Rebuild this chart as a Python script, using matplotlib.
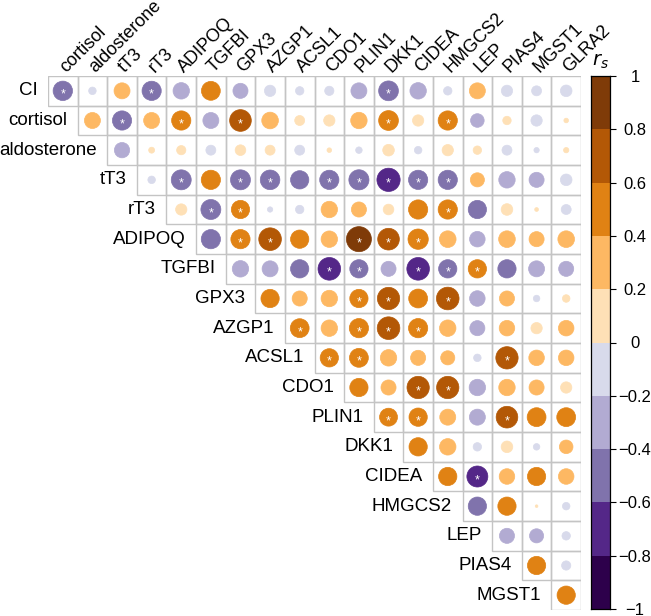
import numpy as np
import matplotlib
matplotlib.use('Agg')
import matplotlib.pyplot as plt
from matplotlib.patches import Circle, Rectangle
from matplotlib.colors import ListedColormap, BoundaryNorm

plt.rcParams['font.family'] = ['Liberation Sans', 'DejaVu Sans']

# row / column names of the upper-triangle correlation matrix
row_labels = ['CI', 'cortisol', 'aldosterone', 'tT3', 'rT3', 'ADIPOQ', 'TGFBI',
              'GPX3', 'AZGP1', 'ACSL1', 'CDO1', 'PLIN1', 'DKK1', 'CIDEA',
              'HMGCS2', 'LEP', 'PIAS4', 'MGST1']
col_labels = ['cortisol', 'aldosterone', 'tT3', 'rT3', 'ADIPOQ', 'TGFBI', 'GPX3',
              'AZGP1', 'ACSL1', 'CDO1', 'PLIN1', 'DKK1', 'CIDEA', 'HMGCS2',
              'LEP', 'PIAS4', 'MGST1', 'GLRA2']

# spearman rs per row, starting at the diagonal column
rs_CI = [-0.53, -0.08, 0.36, -0.52, -0.38, 0.50, -0.32, -0.18, -0.10, -0.12, -0.36, -0.55, -0.38, -0.10, 0.36, -0.18, -0.14, -0.19]
rs_cortisol = [0.36, -0.52, 0.36, 0.52, -0.36, 0.66, 0.39, 0.14, 0.18, 0.38, 0.55, 0.18, 0.52, -0.26, 0.10, -0.18, 0.03]
rs_aldosterone = [-0.33, 0.05, 0.12, -0.14, 0.16, 0.14, -0.14, 0.03, -0.06, 0.19, -0.08, 0.18, 0.10, -0.14, -0.04, 0.04]
rs_tT3 = [-0.08, -0.56, 0.52, -0.56, -0.54, -0.47, -0.52, -0.57, -0.76, -0.52, -0.52, 0.28, -0.38, -0.32, -0.19]
rs_rT3 = [0.18, -0.56, 0.47, -0.04, -0.10, 0.38, 0.32, 0.16, 0.52, 0.52, -0.47, 0.19, 0.02, -0.14]
rs_ADIPOQ = [-0.52, 0.52, 0.72, 0.47, 0.38, 0.88, 0.66, 0.58, 0.39, -0.34, 0.39, 0.32, 0.39]
rs_TGFBI = [-0.38, -0.36, -0.47, -0.72, -0.47, -0.32, -0.72, -0.47, 0.47, -0.47, -0.36, -0.32]
rs_GPX3 = [0.47, 0.32, 0.38, 0.47, 0.70, 0.50, 0.72, -0.34, 0.32, -0.06, 0.08]
rs_AZGP1 = [0.50, 0.38, 0.52, 0.72, 0.52, 0.38, -0.32, 0.34, 0.18, 0.34]
rs_ACSL1 = [0.47, 0.50, 0.38, 0.32, 0.28, -0.08, 0.70, 0.34, 0.34]
rs_CDO1 = [0.47, 0.32, 0.70, 0.70, -0.38, 0.38, 0.32, 0.18]
rs_PLIN1 = [0.45, 0.47, 0.36, -0.36, 0.66, 0.50, 0.50]
rs_DKK1 = [0.47, 0.38, -0.10, 0.19, -0.06, 0.26]
rs_CIDEA = [0.47, -0.62, 0.34, 0.47, 0.34]
rs_HMGCS2 = [-0.47, 0.47, 0.01, -0.08]
rs_LEP = [-0.32, -0.28, -0.10]
rs_PIAS4 = [0.47, -0.12]
rs_MGST1 = [0.47]

rs_rows = [rs_CI, rs_cortisol, rs_aldosterone, rs_tT3, rs_rT3, rs_ADIPOQ, rs_TGFBI,
           rs_GPX3, rs_AZGP1, rs_ACSL1, rs_CDO1, rs_PLIN1, rs_DKK1, rs_CIDEA,
           rs_HMGCS2, rs_LEP, rs_PIAS4, rs_MGST1]

# significant pairs (marked with *)
sig_cols = [
    ['cortisol', 'rT3', 'DKK1'],
    ['tT3', 'ADIPOQ', 'GPX3', 'DKK1', 'HMGCS2'],
    [],
    ['ADIPOQ', 'GPX3', 'AZGP1', 'CDO1', 'PLIN1', 'DKK1', 'CIDEA', 'HMGCS2'],
    ['TGFBI', 'GPX3', 'HMGCS2'],
    ['GPX3', 'AZGP1', 'PLIN1', 'DKK1', 'CIDEA'],
    ['CDO1', 'PLIN1', 'CIDEA', 'HMGCS2', 'LEP'],
    ['PLIN1', 'DKK1', 'HMGCS2'],
    ['ACSL1', 'PLIN1', 'DKK1', 'CIDEA'],
    ['CDO1', 'PLIN1', 'PIAS4'],
    ['CIDEA', 'HMGCS2'],
    ['DKK1', 'CIDEA', 'PIAS4'],
    [], ['LEP'], [], [], [], [],
]

bin_colors = ['#2d004b', '#542788', '#8073ac', '#b2abd2', '#d8daeb',
              '#fee0b6', '#fdb863', '#e08214', '#b35806', '#7f3b08']
bounds = np.linspace(-1, 1, 11)
cmap = ListedColormap(bin_colors)
norm = BoundaryNorm(bounds, cmap.N)

W, H = 651, 616
fig = plt.figure(figsize=(W / 100, H / 100), dpi=100)
ax = fig.add_axes([48 / W, 6 / H, 533 / W, 534 / H])
n = len(col_labels)
ax.set_xlim(0, n)
ax.set_ylim(n, 0)
ax.axis('off')

for i, vals in enumerate(rs_rows):
    for k, v in enumerate(vals):
        j = i + k
        ax.add_patch(Rectangle((j, i), 1, 1, facecolor='none', edgecolor='#c4c4c4',
                               lw=1.0, zorder=1))
        c = cmap(norm(v))
        ax.add_patch(Circle((j + 0.5, i + 0.5), 0.45 * np.sqrt(abs(v)),
                            facecolor=c, edgecolor=c, lw=0.5, zorder=2))
        if col_labels[j] in sig_cols[i]:
            ax.text(j + 0.5, i + 0.63, '*', color='white', fontsize=9,
                    ha='center', va='center', zorder=3)
    ax.text(i - 0.35, i + 0.5, row_labels[i], ha='right', va='center', fontsize=13.5)

for j, lab in enumerate(col_labels):
    ax.text(j + 0.6, -0.1, lab, rotation=45, rotation_mode='anchor',
            ha='left', va='baseline', fontsize=13)

# colour legend
cax = fig.add_axes([591 / W, 7 / H, 19 / W, 533 / H])
cax.pcolormesh([0, 1], bounds, bounds[:-1].reshape(-1, 1) + 0.1, cmap=cmap, norm=norm)
cax.set_xlim(0, 1)
cax.set_ylim(-1, 1)
cax.set_xticks([])
cax.yaxis.tick_right()
ticks = np.round(np.linspace(-1, 1, 11), 1)
cax.set_yticks(ticks)
cax.set_yticklabels(['1' if t == 1 else '\u22121' if t == -1 else ('0' if t == 0 else f'{t:g}'.replace('-', '\u2212')) for t in ticks])
cax.tick_params(axis='y', length=4, width=0.8, pad=14, labelsize=12)
for lab in cax.get_yticklabels():
    lab.set_horizontalalignment('center')
for s in cax.spines.values():
    s.set_linewidth(0.9)
cax.text(0.5, 1.01, '$r_s$', transform=cax.transAxes, ha='center', va='bottom', fontsize=14)

fig.savefig('out.png', dpi=100)
